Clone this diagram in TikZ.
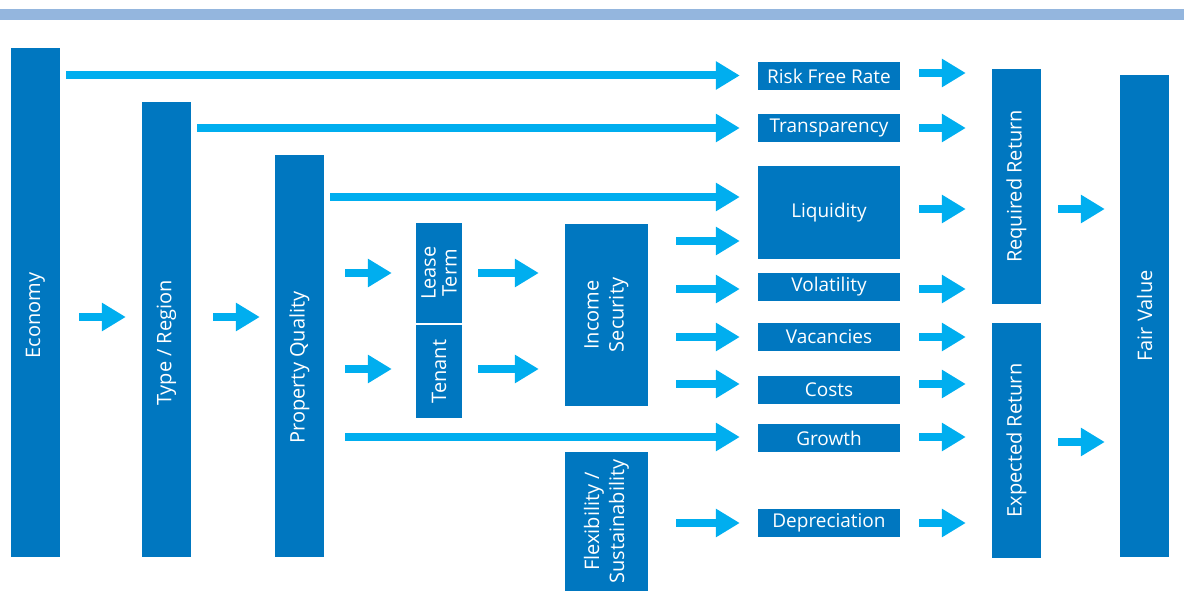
\documentclass[tikz,border=0pt]{standalone}
\usepackage{fontspec}
\setmainfont{Open Sans}
\usetikzlibrary{arrows.meta}

\definecolor{boxblue}{RGB}{0,119,192}
\definecolor{arrowblue}{RGB}{0,174,239}
\definecolor{barblue}{RGB}{148,182,222}

\begin{document}
\begin{tikzpicture}[x=1pt,y=-1pt,
    block/.style={fill=boxblue,text=white,inner sep=0pt,align=center,
        font=\fontsize{19}{24}\selectfont},
    vblock/.style={block,rotate=90,font=\fontsize{20}{25}\selectfont},
    flow/.style={arrowblue,line width=8pt,-{Triangle[length=24pt,width=27pt]}}]

    \useasboundingbox (0,0) rectangle (1184,591);
    \fill[barblue] (0,9) rectangle (1184,20);

    % driver columns (rotated: south = right side, north = left side)
    \node[vblock,minimum width=509pt,minimum height=49pt] (econ) at (35.5,302.5) {Economy\kern26pt};
    \node[vblock,minimum width=455pt,minimum height=49pt] (type) at (166.5,329.5) {Type / Region\kern27pt};
    \node[vblock,minimum width=402pt,minimum height=49pt] (pq) at (299.5,356) {Property Quality\kern23pt};
    \node[vblock,minimum width=100pt,minimum height=46pt,font=\fontsize{20}{21}\selectfont] (lease) at (439,273) {Lease\\Term};
    \node[vblock,minimum width=93pt,minimum height=46pt] (tenant) at (439,371.5) {Tenant};
    \node[vblock,minimum width=182pt,minimum height=83pt] (income) at (606.5,315) {Income\\Security};
    \node[vblock,minimum width=139pt,minimum height=83pt] (flex) at (606.5,521.5) {Flexibility /\\Sustainability};

    % factors
    \node[block,minimum width=142pt,minimum height=28pt] (rfr) at (829,76) {Risk Free Rate};
    \node[block,minimum width=142pt,minimum height=28pt] (transp) at (829,128) {Transparency};
    \node[block,minimum width=142pt,minimum height=93pt] (liq) at (829,212.5) {Liquidity};
    \node[block,minimum width=142pt,minimum height=28pt] (vol) at (829,287) {Volatility};
    \node[block,minimum width=142pt,minimum height=28pt] (vac) at (829,337) {Vacancies};
    \node[block,minimum width=142pt,minimum height=28pt] (costs) at (829,390) {Costs};
    \node[block,minimum width=142pt,minimum height=28pt] (growth) at (829,438) {Growth};
    \node[block,minimum width=142pt,minimum height=28pt] (dep) at (829,523) {Depreciation};

    % returns and value
    \node[vblock,minimum width=235pt,minimum height=49pt] (req) at (1016.5,186.5) {Required Return};
    \node[vblock,minimum width=235pt,minimum height=49pt] (exp) at (1016.5,440.5) {Expected Return};
    \node[vblock,minimum width=482pt,minimum height=49pt] (fair) at (1144.5,316) {Fair Value};

    % long arrows
    \draw[flow,shorten <=6pt,shorten >=18pt] (econ.south |- 0,75.5) -- (rfr.west |- 0,75.5);
    \draw[flow,shorten <=6pt,shorten >=18pt] (type.south |- transp) -- (transp.west);
    \draw[flow,shorten <=6pt,shorten >=18pt] (pq.south |- 0,197) -- (liq.west |- 0,197);
    \draw[flow,shorten <=21pt,shorten >=18pt] (pq.south |- 0,437) -- (growth.west |- 0,437);

    % short arrows
    \draw[flow,shorten <=19pt,shorten >=16pt] (econ.south |- 0,317) -- (type.north |- 0,317);
    \draw[flow,shorten <=22pt,shorten >=15pt] (type.south |- 0,317) -- (pq.north |- 0,317);
    \draw[flow,shorten <=21pt,shorten >=24pt] (pq.south |- lease) -- (lease.north);
    \draw[flow,shorten <=21pt,shorten >=24pt] (pq.south |- 0,369) -- (tenant.north |- 0,369);
    \draw[flow,shorten <=16pt,shorten >=26pt] (lease.south) -- (income.north |- lease);
    \draw[flow,shorten <=16pt,shorten >=26pt] (tenant.south |- 0,369) -- (income.north |- 0,369);

    \draw[flow,shorten <=28pt,shorten >=18pt] (income.south |- 0,241) -- (liq.west |- 0,241);
    \draw[flow,shorten <=28pt,shorten >=18pt] (income.south |- 0,289) -- (vol.west |- 0,289);
    \draw[flow,shorten <=28pt,shorten >=18pt] (income.south |- vac) -- (vac.west);
    \draw[flow,shorten <=28pt,shorten >=18pt] (income.south |- 0,384) -- (costs.west |- 0,384);
    \draw[flow,shorten <=28pt,shorten >=18pt] (flex.south |- dep) -- (dep.west);

    \draw[flow,shorten <=19pt,shorten >=26pt] (rfr.east |- 0,73) -- (req.north |- 0,73);
    \draw[flow,shorten <=19pt,shorten >=26pt] (transp.east) -- (req.north |- transp);
    \draw[flow,shorten <=19pt,shorten >=26pt] (liq.east |- 0,209) -- (req.north |- 0,209);
    \draw[flow,shorten <=19pt,shorten >=26pt] (vol.east |- 0,289) -- (req.north |- 0,289);
    \draw[flow,shorten <=19pt,shorten >=26pt] (vac.east) -- (exp.north |- vac);
    \draw[flow,shorten <=19pt,shorten >=26pt] (costs.east |- 0,384) -- (exp.north |- 0,384);
    \draw[flow,shorten <=19pt,shorten >=26pt] (growth.east |- 0,437) -- (exp.north |- 0,437);
    \draw[flow,shorten <=19pt,shorten >=26pt] (dep.east) -- (exp.north |- dep);

    \draw[flow,shorten <=17pt,shorten >=15pt] (req.south |- 0,209) -- (fair.north |- 0,209);
    \draw[flow,shorten <=17pt,shorten >=15pt] (exp.south |- 0,442) -- (fair.north |- 0,442);
\end{tikzpicture}
\end{document}
